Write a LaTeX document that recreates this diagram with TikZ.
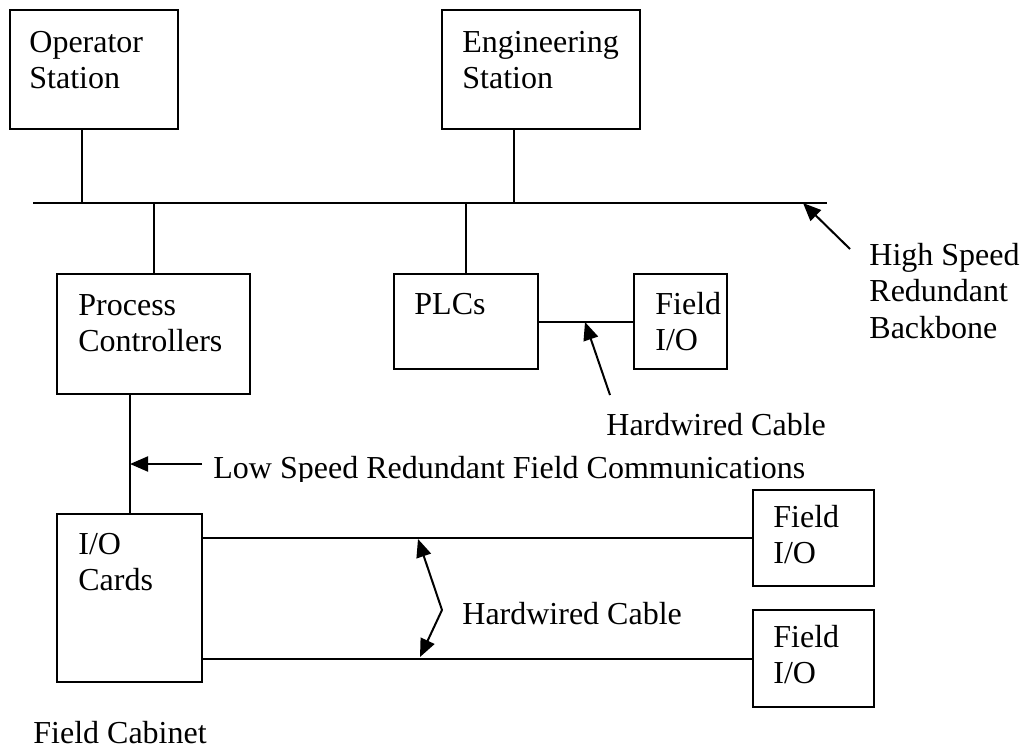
\documentclass[tikz,border=0pt]{standalone}
\usepackage{fontspec}
\setmainfont{Liberation Serif}
\usetikzlibrary{arrows.meta,fit}
\begin{document}
\begin{tikzpicture}[x=0.5pt,y=-0.5pt,
  box/.style={draw,line width=1pt,inner sep=0pt},
  txt/.style={font=\fontsize{16}{18.25}\selectfont,align=left,inner sep=0pt,anchor=north west},
  wire/.style={line width=1pt},
  arr/.style={line width=1pt,-{Triangle[length=9pt,width=7.5pt]}}]
\useasboundingbox (0,0) rectangle (1022,749);
% boxes
\node[box,fit={(10,10) (178,129)}] (op) {};
\node[box,fit={(442,10) (640,129)}] (eng) {};
\node[box,fit={(57,274) (250,394)}] (pc) {};
\node[box,fit={(394,274) (538,369)}] (plc) {};
\node[box,fit={(634,274) (727,369)}] (fio1) {};
\node[box,fit={(57,514) (202,682)}] (io) {};
\node[box,fit={(753,490) (874,586)}] (fio2) {};
\node[box,fit={(753,610) (874,707)}] (fio3) {};
% texts
\node[txt] (top) at (29,52-25.55) {\strut Operator\\Station};
\node[txt] (teng) at (462,52-25.55) {\strut Engineering\\Station};
\node[txt] (tpc) at (78,315-25.55) {\strut Process\\Controllers};
\node[txt] (tplc) at (414,314-25.55) {\strut PLCs};
\node[txt] (tfio1) at (655,314-25.55) {\strut Field\\I/O};
\node[txt] (tio) at (78,554-25.55) {\strut I/O\\Cards};
\node[txt] (tfio2) at (773,527-25.55) {\strut Field\\I/O};
\node[txt] (tfio3) at (773,647-25.55) {\strut Field\\I/O};
\node[txt] (ths) at (869,265-25.55) {\strut High Speed\\Redundant\\Backbone};
\node[txt] (thw1) at (606,435-25.55) {\strut Hardwired Cable};
\node[txt] (thw2) at (462,624-25.55) {\strut Hardwired Cable};
\node[txt] (tfc) at (33,743-25.55) {\strut Field Cabinet};
\begin{scope}
\clip (150,430) rectangle (1022,481);
\node[txt] (tls) at (213,478-25.55) {\strut Low Speed Redundant Field Communications};
\end{scope}
% backbone
\coordinate (bbL) at (33,203);
\coordinate (bbR) at (827,203);
\draw[wire] (bbL) -- (bbR);
\coordinate (opc) at (82,129);
\coordinate (engc) at (514,129);
\draw[wire] (opc) -- (opc |- bbL);
\draw[wire] (engc) -- (engc |- bbL);
\draw[wire] (pc.north) -- (pc.north |- bbL);
\draw[wire] (plc.north) -- (plc.north |- bbL);
\draw[wire] (plc.east) -- (fio1.west);
\draw[wire] (pc.south -| io.north) -- (io.north);
\draw[wire] (io.east |- fio2.west) -- (fio2.west);
\draw[wire] (io.east |- fio3.west) -- (fio3.west);
% arrows
\coordinate (hsT) at (850,249);
\coordinate (hsH) at (803,203);
\draw[arr] (hsT) -- (hsH);
\coordinate (hw1T) at (610,395);
\coordinate (hw1H) at (585,322);
\draw[arr] (hw1T) -- (hw1H);
\coordinate (lsT) at (202,464);
\coordinate (lsH) at (130,464);
\draw[arr] (lsT) -- (lsH);
\coordinate (hw2v) at (442,610);
\coordinate (hw2a) at (418,539);
\coordinate (hw2b) at (420,657);
\draw[arr] (hw2v) -- (hw2a);
\draw[arr] (hw2v) -- (hw2b);
\end{tikzpicture}
\end{document}
